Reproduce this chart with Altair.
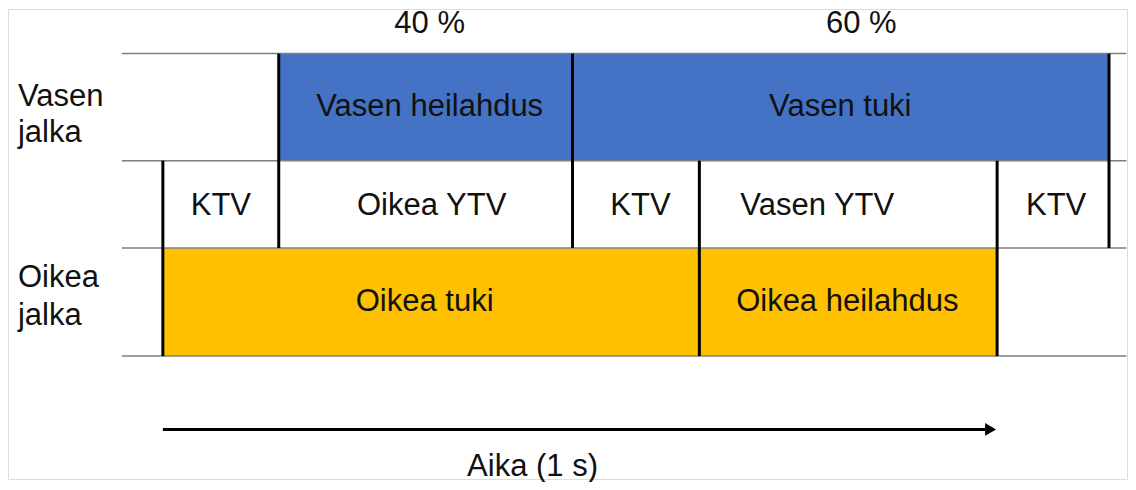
import altair as alt
import pandas as pd

# Time axis: percent of gait cycle (0 = arrow start, 100 = arrow end = 1 s)
# Lane boundaries (vertical units, top = 0)
lane_top = [45, 153, 241]
lane_bot = [153, 241, 350]

# Filled phase boxes
box_names = ["Vasen heilahdus", "Vasen tuki", "Oikea tuki", "Oikea heilahdus"]
box_start = [13.89, 49.10, 0.0, 64.31]
box_end = [49.10, 113.41, 64.31, 100.0]
box_lane = [0, 0, 2, 2]
box_color = ["#4472C4", "#4472C4", "#FFC000", "#FFC000"]
box_label_x = [31.98, 81.20, 31.38, 82.04]

# Middle-lane labels (support phases)
mid_names = ["KTV", "Oikea YTV", "KTV", "Vasen YTV", "KTV"]
mid_label_x = [6.95, 32.22, 57.25, 78.44, 107.07]

# Vertical divider lines
div_x = [0.0, 13.89, 49.10, 64.31, 100.0, 113.41]
div_y0 = [153, 45, 45, 153, 153, 45]
div_y1 = [350, 241, 241, 350, 350, 241]

# Horizontal guide lines
hline_y = [45, 153, 241, 350]
hline_x0 = -4.91
hline_x1 = 115.5

# Top percentages
pct_labels = ["40 %", "60 %"]
pct_x = [31.98, 83.71]
pct_y = 15

# Side labels
side_labels = ["Vasen", "jalka", "Oikea", "jalka"]
side_y = [89, 125, 271, 310]
side_x = -17.37

# Time arrow
arrow_x0, arrow_line_end, arrow_head_x, arrow_y = 0.0, 98.6, 99.22, 424
axis_title = "Aika (1 s)"
axis_title_x, axis_title_y = 44.31, 462

FONT = "Liberation Sans"
FS = 31

xs = alt.Scale(domain=[-18.563, 115.569], nice=False, zero=False)
ys = alt.Scale(domain=[0, 474], reverse=True, nice=False, zero=False)

boxes = pd.DataFrame({
    "name": box_names,
    "x0": box_start,
    "x1": box_end,
    "y0": [lane_top[i] for i in box_lane],
    "y1": [lane_bot[i] for i in box_lane],
    "color": box_color,
    "lx": box_label_x,
    "ly": [(lane_top[i] + lane_bot[i]) / 2 for i in box_lane],
})

rects = alt.Chart(boxes).mark_rect(strokeWidth=0).encode(
    x=alt.X("x0:Q", scale=xs, axis=None),
    x2="x1:Q",
    y=alt.Y("y0:Q", scale=ys, axis=None),
    y2="y1:Q",
    color=alt.Color("color:N", scale=None),
)

box_text = alt.Chart(boxes).mark_text(font=FONT, fontSize=FS, color="#111111", baseline="middle").encode(
    x=alt.X("lx:Q", scale=xs, axis=None),
    y=alt.Y("ly:Q", scale=ys, axis=None),
    text="name:N",
)

mid = pd.DataFrame({"name": mid_names, "lx": mid_label_x,
                    "ly": [(lane_top[1] + lane_bot[1]) / 2 + 2] * len(mid_names)})
mid_text = alt.Chart(mid).mark_text(font=FONT, fontSize=FS, color="#111111", baseline="middle").encode(
    x=alt.X("lx:Q", scale=xs, axis=None),
    y=alt.Y("ly:Q", scale=ys, axis=None),
    text="name:N",
)

hl = pd.DataFrame({"y": hline_y, "x0": [hline_x0] * 4, "x1": [hline_x1] * 4})
hlines = alt.Chart(hl).mark_rule(color="#7F7F7F", strokeWidth=1.5).encode(
    x=alt.X("x0:Q", scale=xs, axis=None),
    x2="x1:Q",
    y=alt.Y("y:Q", scale=ys, axis=None),
)

dv = pd.DataFrame({"x": div_x, "y0": div_y0, "y1": div_y1})
dividers = alt.Chart(dv).mark_rule(color="#000000", strokeWidth=3).encode(
    x=alt.X("x:Q", scale=xs, axis=None),
    y=alt.Y("y0:Q", scale=ys, axis=None),
    y2="y1:Q",
)

pct = pd.DataFrame({"t": pct_labels, "x": pct_x, "y": [pct_y] * 2})
pct_text = alt.Chart(pct).mark_text(font=FONT, fontSize=FS, color="#111111", baseline="middle").encode(
    x=alt.X("x:Q", scale=xs, axis=None),
    y=alt.Y("y:Q", scale=ys, axis=None),
    text="t:N",
)

side = pd.DataFrame({"t": side_labels, "y": side_y, "x": [side_x] * 4})
side_text = alt.Chart(side).mark_text(font=FONT, fontSize=FS, color="#111111", baseline="middle", align="left").encode(
    x=alt.X("x:Q", scale=xs, axis=None),
    y=alt.Y("y:Q", scale=ys, axis=None),
    text="t:N",
)

arr = pd.DataFrame({"x0": [arrow_x0], "x1": [arrow_line_end], "xh": [arrow_head_x], "y": [arrow_y]})
arrow_line = alt.Chart(arr).mark_rule(color="#000000", strokeWidth=3).encode(
    x=alt.X("x0:Q", scale=xs, axis=None),
    x2="x1:Q",
    y=alt.Y("y:Q", scale=ys, axis=None),
)
arrow_head = alt.Chart(arr).mark_point(shape="triangle-right", filled=True, color="#000000", size=160, opacity=1).encode(
    x=alt.X("xh:Q", scale=xs, axis=None),
    y=alt.Y("y:Q", scale=ys, axis=None),
)

ttl = pd.DataFrame({"t": [axis_title], "x": [axis_title_x], "y": [axis_title_y]})
title_text = alt.Chart(ttl).mark_text(font=FONT, fontSize=FS, color="#111111", baseline="middle").encode(
    x=alt.X("x:Q", scale=xs, axis=None),
    y=alt.Y("y:Q", scale=ys, axis=None),
    text="t:N",
)

chart = alt.layer(
    rects, hlines, dividers, box_text, mid_text, pct_text, side_text,
    arrow_line, arrow_head, title_text,
).properties(
    width=1120, height=474, padding=0,
    autosize=alt.AutoSizeParams(type="fit", contains="padding"),
).configure_view(strokeWidth=0, stroke="transparent").configure(background="#FFFFFF")

chart.save("out.html", embed_options={"renderer": "svg", "actions": False})
